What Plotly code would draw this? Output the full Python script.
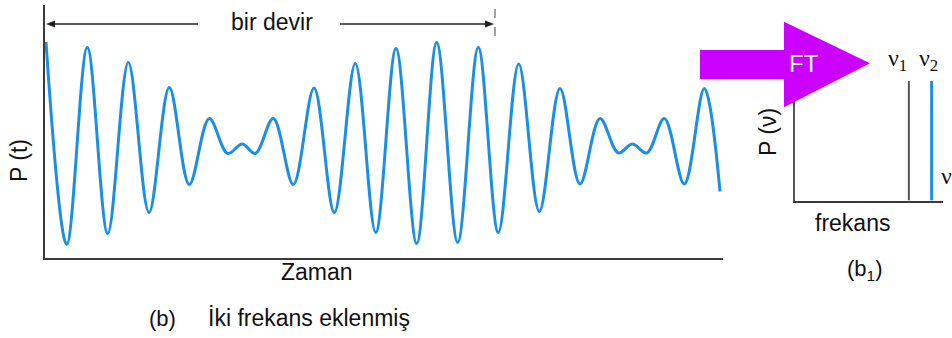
import plotly.graph_objects as go

W, H = 952, 338

# ---- data ----
# beat signal extrema (time in arbitrary units, amplitude in arbitrary units)
t_vals = [1, 21.7, 42.3, 62.7, 83.3, 104, 124.3, 144.3, 164.3, 182.7, 197.3, 210.3,
          228.3, 248.3, 269, 289.3, 310.3, 330.7, 351, 371.7, 391.7, 412.7, 433.3,
          453.3, 473.7, 494.3, 515, 535, 555, 573.3, 587.3, 601.7, 619.3, 639.3,
          659.3, 675]
p_vals = [2.02, -2.03, 1.91, -1.81, 1.61, -1.39, 1.11, -0.83, 0.49, -0.21, -0.02, -0.21,
          0.49, -0.83, 1.10, -1.39, 1.59, -1.79, 1.89, -2.01, 2.01, -1.99, 1.91,
          -1.79, 1.58, -1.37, 1.09, -0.82, 0.49, -0.20, -0.02, -0.20, 0.49, -0.82,
          1.09, -0.97]

# spectrum: two frequencies
freqs = [5.0, 6.0]
amps = [1.0, 1.0]
freq_labels = ["ν<sub>1</sub>", "ν<sub>2</sub>"]
freq_label_shift = [-11, -3]
freq_colors = ["#555555", "#1b8fe6"]
freq_widths = [2, 3]

FONT = "Liberation Sans, Arial, sans-serif"
SERIF = "Liberation Serif, Times New Roman, serif"
BLUE = "#1b8fe6"
AX = "#3a3a3a"
MAG = "#cc00ff"

def px(x):
    return x / W

def py(y):
    return 1 - y / H

def poly(pts):
    return "M " + " L ".join(f"{px(x):.5f},{py(y):.5f}" for x, y in pts) + " Z"

fig = go.Figure()

fig.add_trace(go.Scatter(
    x=t_vals, y=p_vals, mode="lines",
    line=dict(color=BLUE, width=3, shape="spline", smoothing=1.0),
    xaxis="x", yaxis="y", showlegend=False, hoverinfo="skip"))

for f, a, c, w in zip(freqs, amps, freq_colors, freq_widths):
    fig.add_trace(go.Scatter(
        x=[f, f], y=[0, a], mode="lines",
        line=dict(color=c, width=w),
        xaxis="x2", yaxis="y2", showlegend=False, hoverinfo="skip"))

fig.update_layout(
    width=W, height=H,
    margin=dict(l=0, r=0, t=0, b=0),
    paper_bgcolor="white", plot_bgcolor="rgba(0,0,0,0)",
    font=dict(family=FONT, size=23, color="#111"),
    xaxis=dict(domain=[px(45), px(723)], range=[0, 678], showline=True, linecolor=AX,
               linewidth=2, showgrid=False, zeroline=False, showticklabels=False,
               ticks=""),
    yaxis=dict(domain=[py(258.3), py(5)], range=[-2.306, 2.76], showline=True,
               linecolor=AX, linewidth=2, showgrid=False, zeroline=False,
               showticklabels=False, ticks=""),
    xaxis2=dict(domain=[px(795), px(943)], range=[0, 6.5], anchor="y2", showline=True,
                linecolor=AX, linewidth=2, showgrid=False, zeroline=False,
                showticklabels=False, ticks=""),
    yaxis2=dict(domain=[py(200.5), py(81)], range=[0, 1], anchor="x2", showline=True,
                linecolor="#555", linewidth=2, showgrid=False, zeroline=False,
                showticklabels=False, ticks=""),
)

# FT arrow (magenta)
fig.add_shape(type="path",
              path=poly([(700, 50), (784, 50), (784, 21.7), (870, 63.3), (784, 107.3),
                         (784, 79), (700, 79)]),
              xref="paper", yref="paper", fillcolor=MAG, line=dict(width=0), layer="above")

# period arrows ("bir devir")
ARR = "#222"
fig.add_shape(type="line", xref="paper", yref="paper",
              x0=px(50), x1=px(198), y0=py(24), y1=py(24),
              line=dict(color=ARR, width=1.5))
fig.add_shape(type="path", path=poly([(46, 24), (55, 20.5), (55, 27.5)]),
              xref="paper", yref="paper", fillcolor=ARR, line=dict(width=0))
fig.add_shape(type="line", xref="paper", yref="paper",
              x0=px(340), x1=px(490), y0=py(24), y1=py(24),
              line=dict(color=ARR, width=1.5))
fig.add_shape(type="path", path=poly([(494, 24), (485, 20.5), (485, 27.5)]),
              xref="paper", yref="paper", fillcolor=ARR, line=dict(width=0))
# dashed end marker
fig.add_shape(type="line", xref="paper", yref="paper",
              x0=px(495), x1=px(495), y0=py(9), y1=py(38),
              line=dict(color="#444", width=1, dash="dash"))

def txt(x, y, s, size=23, **kw):
    d = dict(x=px(x), y=py(y), xref="paper", yref="paper", text=s, showarrow=False,
             xanchor="center", yanchor="middle", font=dict(size=size))
    d.update(kw)
    return d

annotations = [
    txt(272, 22, "bir devir"),
    txt(19, 161, "P (t)", textangle=-90),
    txt(317, 272, "Zaman"),
    txt(162, 318, "(b)", 22),
    txt(309, 318, "İki frekans eklenmiş", 23),
    txt(804, 64, "FT", font=dict(size=24, color="white")),
    txt(768, 132, "P (ν)", textangle=-90),
    txt(852, 223, "frekans"),
    txt(864, 270, "(b<sub>1</sub>)", 22),
    txt(946.5, 176, "ν", font=dict(size=24, family=SERIF)),
]
for f, lab, sh in zip(freqs, freq_labels, freq_label_shift):
    annotations.append(dict(x=f, y=1, xref="x2", yref="y2", text=lab,
                            showarrow=False, xanchor="center", yanchor="bottom",
                            yshift=4, xshift=sh,
                            font=dict(size=24, family=SERIF)))
fig.update_layout(annotations=annotations)

fig.write_html("out.html")
